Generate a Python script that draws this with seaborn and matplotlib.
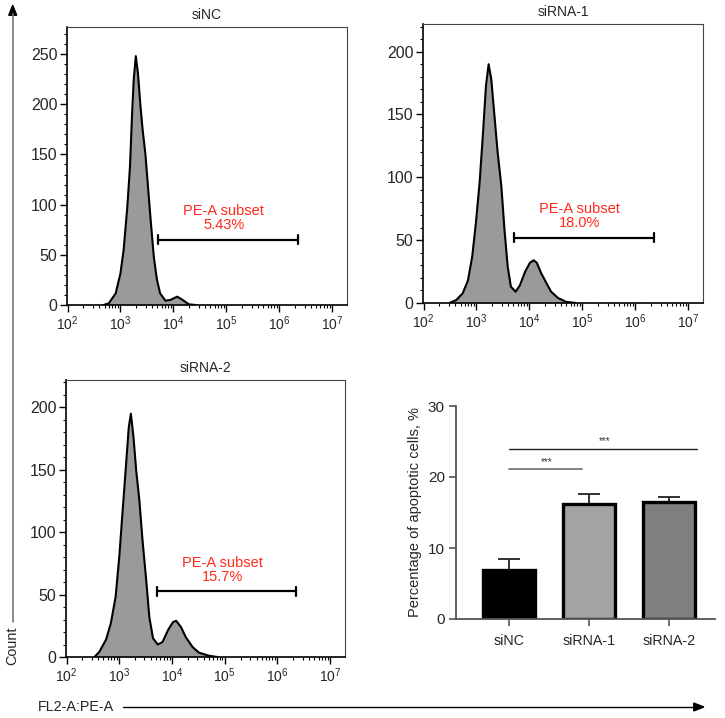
import numpy as np
import matplotlib
matplotlib.use("Agg")
import matplotlib.pyplot as plt
import seaborn as sns
from matplotlib.ticker import LogLocator, MultipleLocator, LogFormatterMathtext, NullFormatter

# histogram curves: log10(FL2-A) positions and counts
nc_log = [2.68, 2.78, 2.91, 3.00, 3.06, 3.13, 3.18, 3.22, 3.25, 3.29, 3.33, 3.38,
          3.42, 3.47, 3.52, 3.57, 3.63, 3.69, 3.75, 3.85, 3.94, 4.07, 4.16, 4.29, 4.42]
nc_count = [0, 1.7, 11.6, 31.5, 54.8, 98, 138, 191, 224, 248, 231, 197,
            174, 151, 118, 85, 48, 25, 11.6, 4.3, 5, 8.3, 5.6, 0.7, 0]

r1_log = [2.49, 2.62, 2.74, 2.84, 2.92, 2.99, 3.06, 3.12, 3.18, 3.23, 3.28, 3.34,
          3.40, 3.47, 3.53, 3.59, 3.65, 3.74, 3.82, 3.92, 4.01, 4.08, 4.14, 4.22,
          4.32, 4.41, 4.54, 4.69, 4.88]
r1_count = [0, 2.4, 7.7, 18, 37, 64, 96, 133, 173, 190, 178, 149,
            120, 93, 58, 29, 13, 9, 14, 25, 32, 34, 32, 24,
            16, 9, 4, 1, 0]

r2_log = [2.53, 2.62, 2.75, 2.84, 2.93, 3.00, 3.06, 3.13, 3.18, 3.22, 3.27, 3.32,
          3.38, 3.44, 3.51, 3.57, 3.64, 3.73, 3.82, 3.93, 4.02, 4.08, 4.17, 4.26,
          4.39, 4.51, 4.70, 4.86]
r2_count = [0, 4, 14, 27, 48, 80, 115, 155, 184, 195, 176, 150,
            126, 94, 62, 32, 15, 10, 12, 22, 28, 29, 24, 16,
            8, 3.5, 1, 0]

panel_titles = ["siNC", "siRNA-1", "siRNA-2"]
gate_pct = ["5.43%", "18.0%", "15.7%"]
gate_y = [65, 52, 52.5]
gate_lo, gate_hi = 10 ** 3.71, 10 ** 6.35
ymax = [277, 222, 222]

# bar chart
groups = ["siNC", "siRNA-1", "siRNA-2"]
pct = [6.9, 16.2, 16.5]
err = [1.6, 1.4, 0.7]
bar_colors = ["#000000", "#a2a2a6", "#7f7f7f"]

sns.set_style("white")
plt.rcParams["font.family"] = ["Liberation Sans", "DejaVu Sans"]
plt.rcParams["mathtext.fontset"] = "custom"
plt.rcParams["mathtext.rm"] = "Liberation Sans"
plt.rcParams["mathtext.it"] = "Liberation Sans"

fig = plt.figure(figsize=(7.25, 7.18), dpi=100)
W, H = 725, 718


def box(l, t, r, b):
    return [l / W, (H - b) / H, (r - l) / W, (b - t) / H]


hist_boxes = [box(67, 27, 347, 305), box(423, 24, 703, 303), box(66, 380, 345, 657)]
curves = [(nc_log, nc_count), (r1_log, r1_count), (r2_log, r2_count)]

for k, (lg, cnt) in enumerate(curves):
    ax = fig.add_axes(hist_boxes[k])
    xs = 10 ** np.array(lg)
    ax.fill_between(xs, cnt, 0, color="#9a9a9a", lw=0)
    sns.lineplot(x=xs, y=cnt, ax=ax, color="black", lw=1.5, sort=False)
    ax.set_xscale("log")
    ax.set_xlim(10 ** 1.99, 10 ** 7.28)
    ax.set_ylim(0, ymax[k])
    ax.xaxis.set_major_formatter(LogFormatterMathtext())
    ax.xaxis.set_minor_locator(LogLocator(base=10, subs=np.arange(2, 10), numticks=20))
    ax.xaxis.set_minor_formatter(NullFormatter())
    ax.set_xticks([10 ** i for i in range(2, 8)])
    ax.yaxis.set_major_locator(MultipleLocator(50))
    ax.yaxis.set_minor_locator(MultipleLocator(10))
    ax.tick_params(which="major", direction="out", length=5, width=1, labelsize=11.5,
                   bottom=True, left=True, color="black", pad=2)
    ax.tick_params(which="minor", direction="out", length=2.5, width=0.8,
                   bottom=True, left=True, color="black")
    ax.tick_params(axis="x", which="major", labelsize=10)
    for s in ax.spines.values():
        s.set_color("#444444")
        s.set_linewidth(0.8)
    ax.spines["left"].set_color("black")
    ax.spines["bottom"].set_color("black")
    ax.spines["left"].set_linewidth(1.2)
    ax.spines["bottom"].set_linewidth(1.2)
    ax.set_xlabel("")
    ax.set_ylabel("")
    ax.set_title(panel_titles[k], fontsize=10, pad=6)
    # gate
    gy = gate_y[k]
    ax.plot([gate_lo, gate_hi], [gy, gy], color="black", lw=1.6)
    for gx in (gate_lo, gate_hi):
        ax.plot([gx, gx], [gy - 4.5 * ymax[k] / 277, gy + 4.5 * ymax[k] / 277],
                color="black", lw=1.6)
    ax.text(10 ** 4.95, gy + 0.027 * ymax[k], "PE-A subset\n" + gate_pct[k],
            color="#ff2a1a", fontsize=10.5, ha="center", va="bottom", linespacing=1.0)

# bar chart
bx = fig.add_axes(box(456, 406, 715, 619))
sns.barplot(x=groups, y=pct, hue=groups, palette=bar_colors, ax=bx, width=0.65,
            edgecolor="black", linewidth=2.4, legend=False, errorbar=None)
bx.errorbar(range(3), pct, yerr=[[0, 0, 0], err], fmt="none", ecolor="#222222",
            elinewidth=1.3, capsize=8, capthick=1.3, zorder=1)
for p in bx.patches:
    p.set_zorder(2)
bx.set_xlim(-0.66, 2.58)
bx.set_ylim(0, 30)
bx.set_yticks([0, 10, 20, 30])
sns.despine(ax=bx)
for s in ("left", "bottom"):
    bx.spines[s].set_color("#555555")
    bx.spines[s].set_linewidth(1.3)
bx.tick_params(axis="both", direction="out", length=5, width=1.1, color="#444444",
               labelsize=11, left=True, bottom=True, pad=3)
bx.tick_params(axis="x", labelsize=10.3, pad=6)
bx.set_ylabel("Percentage of apoptotic cells, %", fontsize=10.5, labelpad=4)
# significance lines
bx.plot([0, 0.92], [21.1, 21.1], color="#777777", lw=1.3, clip_on=False)
bx.text(0.48, 21.4, "***", ha="center", va="bottom", fontsize=7, color="#333333")
bx.plot([0, 2.36], [24.0, 24.0], color="#222222", lw=1.0, clip_on=False)
bx.text(1.2, 24.3, "***", ha="center", va="bottom", fontsize=7, color="#333333")

# outer axis arrows
fig.add_artist(matplotlib.lines.Line2D([12.7 / W, 12.7 / W], [(H - 622) / H, (H - 14) / H],
                                       color="#777777", lw=1.2))
fig.add_artist(matplotlib.patches.FancyArrow(12.7 / W, (H - 16) / H, 0, 0.001,
                                             width=0, head_width=0.011, head_length=0.014,
                                             color="black", length_includes_head=False))
fig.text(12.7 / W, (H - 646) / H, "Count", rotation=90, ha="center", va="center",
         fontsize=10.4)
fig.text(38 / W, (H - 707) / H, "FL2-A:PE-A", ha="left", va="center", fontsize=10.4)
fig.add_artist(matplotlib.lines.Line2D([123 / W, 695 / W], [(H - 707) / H, (H - 707) / H],
                                       color="black", lw=1.0))
fig.add_artist(matplotlib.patches.FancyArrow(693 / W, (H - 707) / H, 0.001, 0,
                                             width=0, head_width=0.011, head_length=0.014,
                                             color="black"))

fig.savefig("out.png", dpi=100)
